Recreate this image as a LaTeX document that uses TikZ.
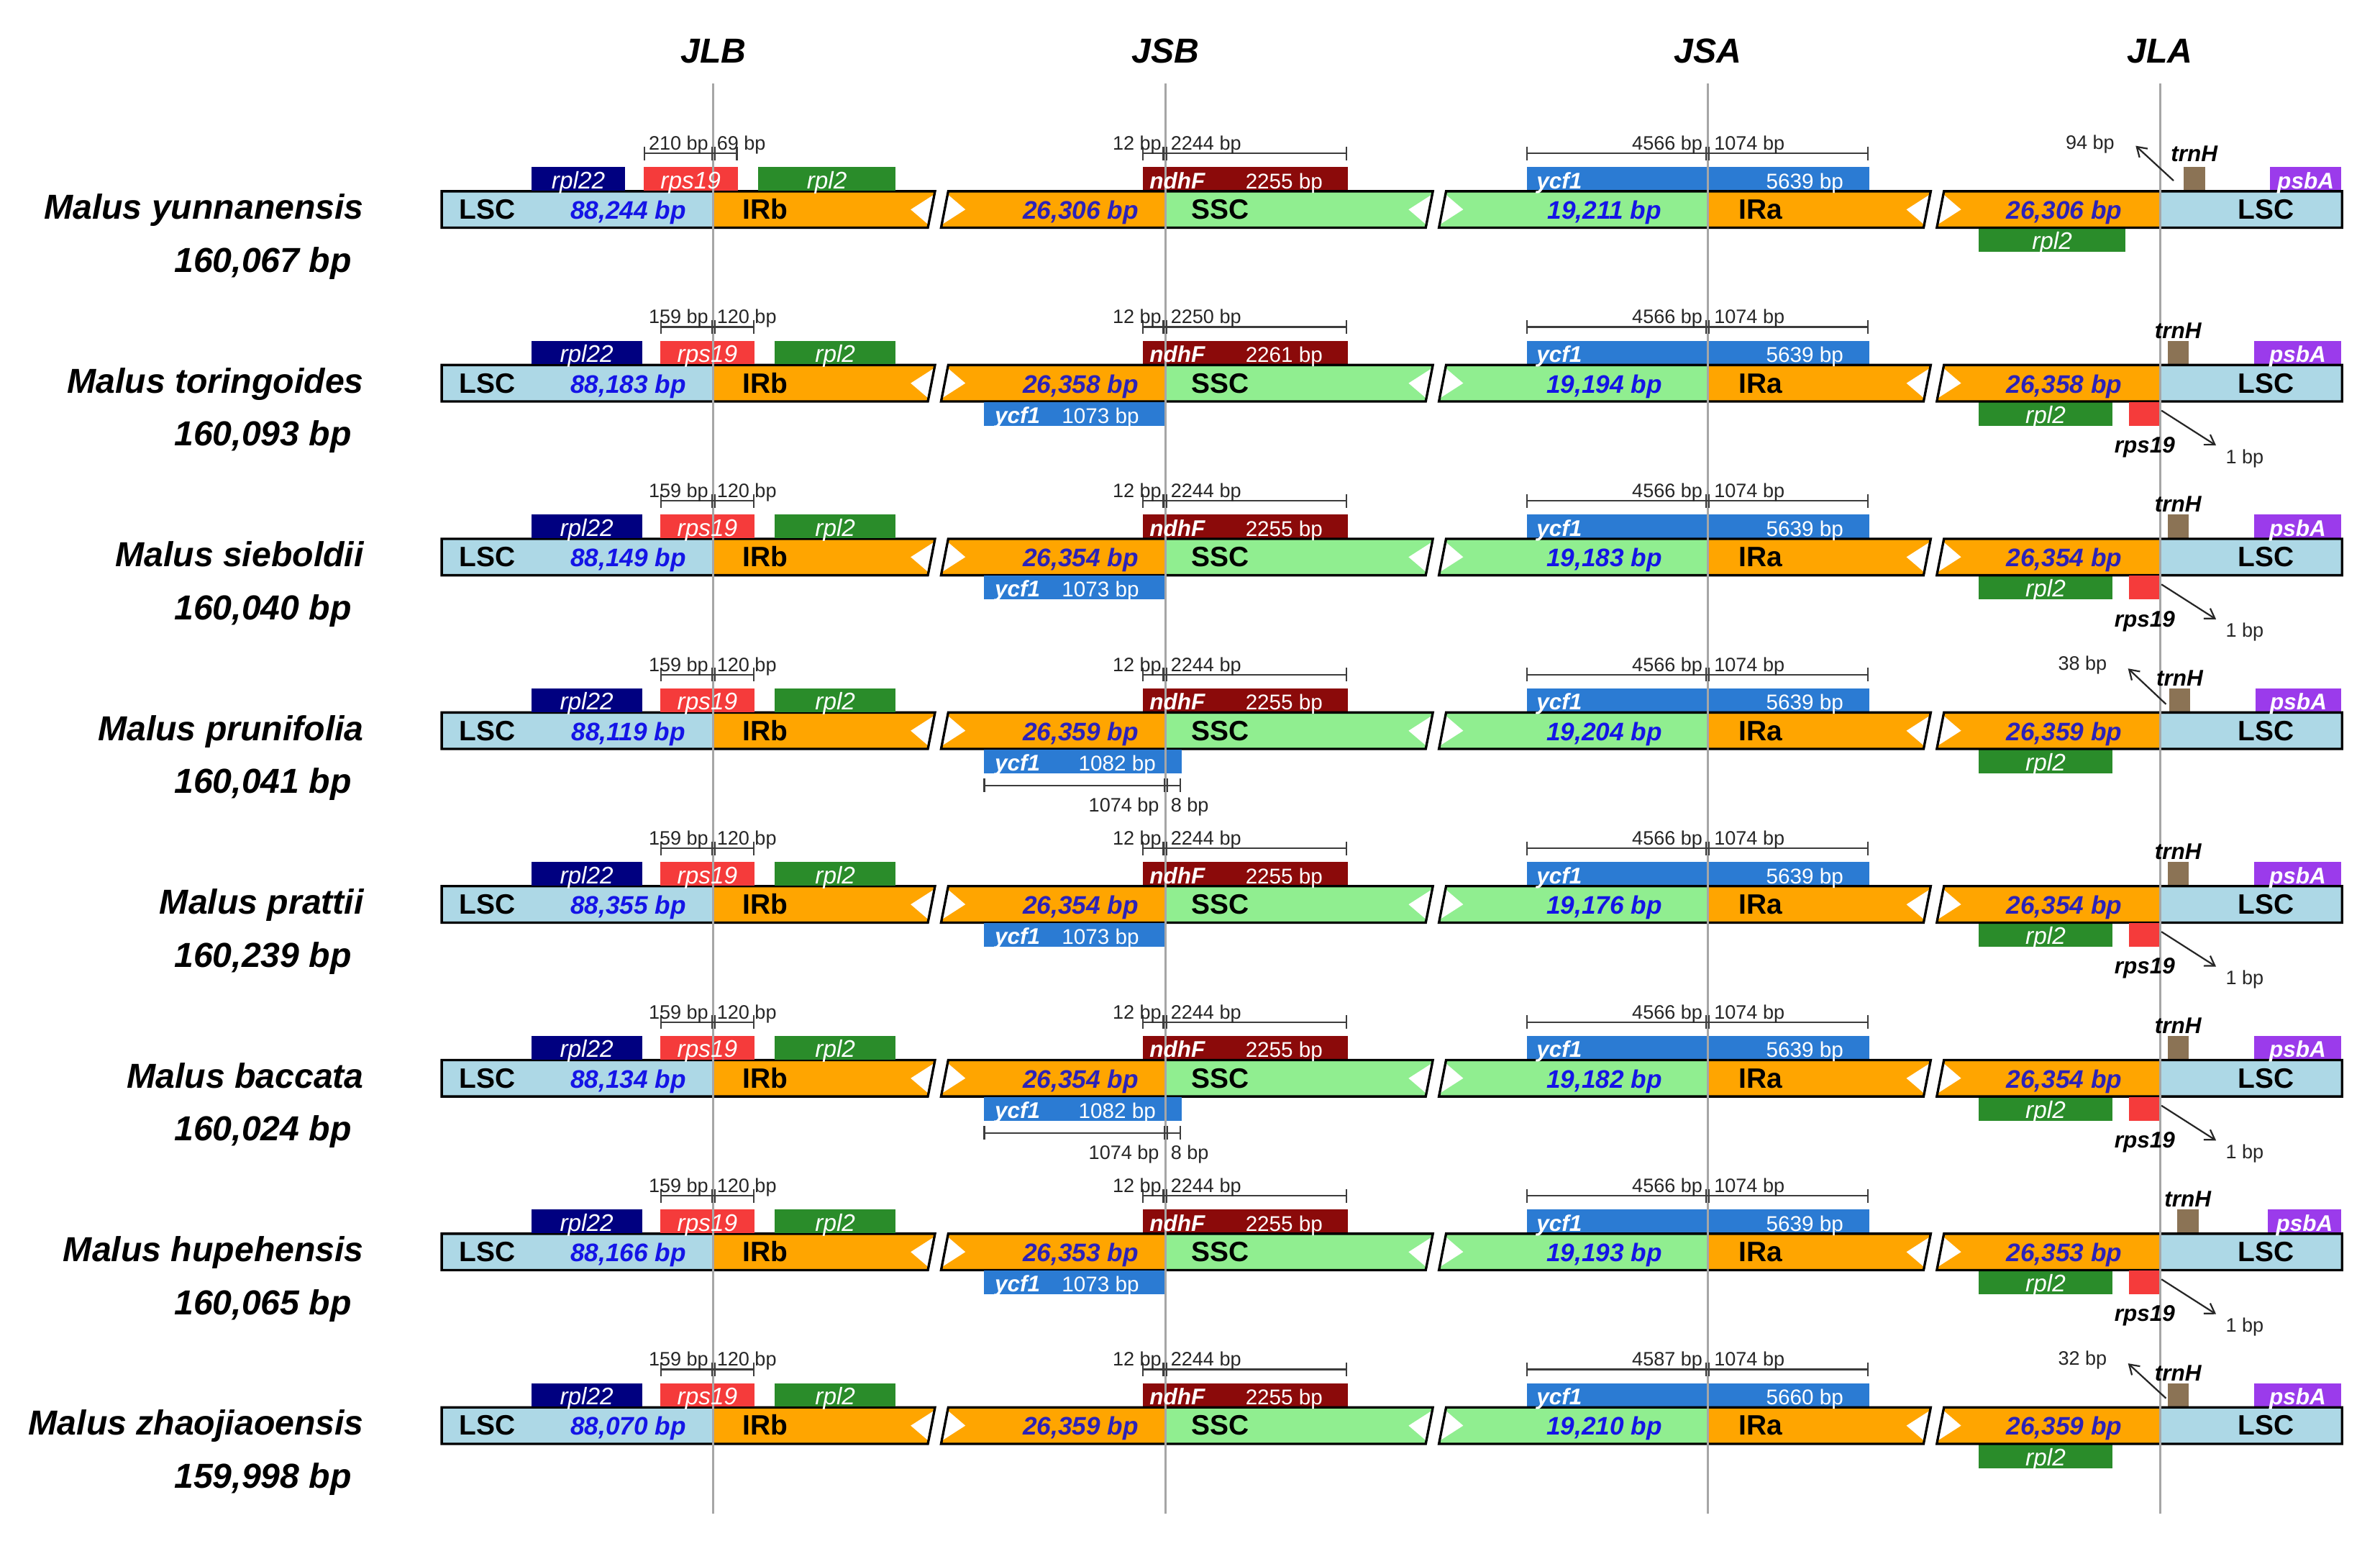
\documentclass[tikz,border=0pt]{standalone}
\usepackage{fontspec}
\setmainfont{Liberation Sans}
\usetikzlibrary{arrows.meta}
\definecolor{lscc}{HTML}{ADD8E6}
\definecolor{irc}{HTML}{FFA500}
\definecolor{sscc}{HTML}{90EE90}
\definecolor{rpltt}{HTML}{000080}
\definecolor{rpsc}{HTML}{F53B3B}
\definecolor{rpltwo}{HTML}{2A8C2A}
\definecolor{ndhc}{HTML}{8B0A0A}
\definecolor{ycfc}{HTML}{2B7BD3}
\definecolor{trnc}{HTML}{8B7355}
\definecolor{psbc}{HTML}{9B3BEB}
\definecolor{bpa}{HTML}{1414E6}
\definecolor{bpb}{HTML}{2C22B8}
\definecolor{jgrey}{HTML}{A6A6A6}
\definecolor{dimc}{HTML}{3C3C3C}
\tikzset{
 spname/.style={font=\fontsize{13}{13}\selectfont\bfseries\itshape, anchor=east, inner sep=0pt, text height=0.72em, text depth=0pt},
 hdr/.style={font=\fontsize{13}{13}\selectfont\bfseries\itshape, inner sep=0pt, text height=0.72em, text depth=0pt},
 reg/.style={font=\fontsize{10.5}{10.5}\selectfont\bfseries, inner sep=0pt, text height=0.72em, text depth=0pt},
 bpn/.style={font=\fontsize{9.5}{9.5}\selectfont\bfseries\itshape, inner sep=0pt, text height=0.72em, text depth=0pt},
 gn/.style={font=\fontsize{9}{9}\selectfont\itshape, text=white, inner sep=0pt, text height=0.72em, text depth=0pt},
 gnb/.style={font=\fontsize{8.5}{8.5}\selectfont\bfseries\itshape, text=white, inner sep=0pt, text height=0.72em, text depth=0pt},
 gl/.style={font=\fontsize{8}{8}\selectfont, text=white, inner sep=0pt, text height=0.72em, text depth=0pt},
 dimt/.style={font=\fontsize{7.3}{7.3}\selectfont, text=black!85, inner sep=0pt, text height=0.72em, text depth=0pt},
 blk/.style={font=\fontsize{8.5}{8.5}\selectfont\bfseries\itshape, inner sep=0pt, text height=0.72em, text depth=0pt},
 dimln/.style={draw=dimc, line width=0.6pt},
 outl/.style={draw=black, line width=0.9pt, line join=miter},
 jline/.style={draw=jgrey, line width=0.8pt},
 ptr/.style={draw=black!85, line width=0.6pt, -{Straight Barb[length=3.5pt,width=4.5pt]}},
}
\newcommand\dimbar[4]{%
 \draw[dimln] (#1,#4) -- (#3,#4);
 \draw[dimln] (#1,#4-4.5) -- (#1,#4+4.5) (#3,#4-4.5) -- (#3,#4+4.5);
 \draw[dimln] (#2-1,#4-4.5) -- (#2-1,#4+4.5) (#2+1,#4-4.5) -- (#2+1,#4+4.5);}
\def\rowlist{%
1/138/Malus yunnanensis/160{,}067/88{,}244/26{,}306/19{,}211/2255/2244/4566/5639/1438.6/1495.5/38/1400.3,%
2/252.4/Malus toringoides/160{,}093/88{,}183/26{,}358/19{,}194/2261/2250/4566/5639/1428/1485/36/1391.7,%
3/366.9/Malus sieboldii/160{,}040/88{,}149/26{,}354/19{,}183/2255/2244/4566/5639/1428/1485/36/1391.7,%
4/481.3/Malus prunifolia/160{,}041/88{,}119/26{,}359/19{,}204/2255/2244/4566/5639/1429/1486/36/1391.7,%
5/595.7/Malus prattii/160{,}239/88{,}355/26{,}354/19{,}176/2255/2244/4566/5639/1428/1485/36/1391.7,%
6/710.2/Malus baccata/160{,}024/88{,}134/26{,}354/19{,}182/2255/2244/4566/5639/1428/1485/36/1391.7,%
7/824.6/Malus hupehensis/160{,}065/88{,}166/26{,}353/19{,}193/2255/2244/4566/5639/1434.4/1494/36/1391.7,%
8/939/Malus zhaojiaoensis/159{,}998/88{,}070/26{,}359/19{,}210/2255/2244/4587/5660/1428/1485/36/1391.7}
\def\jlblist{%
1/138/350/412/424/486/499.5/210/69/424.5/485.5,%
2/252.4/350/423/435/497/510.5/159/120/435.5/496.5,%
3/366.9/350/423/435/497/510.5/159/120/435.5/496.5,%
4/481.3/350/423/435/497/510.5/159/120/435.5/496.5,%
5/595.7/350/423/435/497/510.5/159/120/435.5/496.5,%
6/710.2/350/423/435/497/510.5/159/120/435.5/496.5,%
7/824.6/350/423/435/497/510.5/159/120/435.5/496.5,%
8/939/350/423/435/497/510.5/159/120/435.5/496.5}
\def\ycflist{2/252.4/768/1073/725,3/366.9/768/1073/725,4/481.3/778.5/1082/736,5/595.7/768/1073/725,6/710.2/778.5/1082/736,7/824.6/768/1073/725}
\def\rpslist{2/252.4,3/366.9,5/595.7,6/710.2,7/824.6}
\def\arrlist{1/138/1432/1407/94/1377/19/42,4/481.3/1427/1402/38/1372/17.5/41,8/939/1427/1402/32/1372/18/41}
\begin{document}
\begin{tikzpicture}[x=0.02cm,y=-0.02cm]
\useasboundingbox (0,0) rectangle (1568,1015);
% ---------- fills, gene boxes, outlines
\foreach \rw/\yc/\nm/\tot/\vL/\vI/\vS/\vN/\vNd/\vYd/\vY/\vT/\vP/\vTy/\vR in \rowlist {
 \pgfmathsetmacro\yt{\yc-12}
 \pgfmathsetmacro\yb{\yc+12}
 % gene boxes
 \fill[ndhc] (753,\yc-28) rectangle (888,\yt);
 \fill[ycfc] (1006,\yc-28) rectangle (1231.5,\yt);
 \fill[trnc] (\vT,\yc-28) rectangle (\vT+14,\yt);
 \fill[psbc] (\vP,\yc-28) rectangle (1542.5,\yt);
 \fill[rpltwo] (1303.6,\yb) rectangle (\vR,\yc+28);
 % bar fills
 \fill[lscc] (291,\yt) rectangle (470,\yb);
 \fill[irc] (470,\yt) -- (616,\yt) -- (611.3,\yb) -- (470,\yb) -- cycle;
 \fill[irc] (624.7,\yt) -- (768,\yt) -- (768,\yb) -- (620,\yb) -- cycle;
 \fill[sscc] (768,\yt) -- (944,\yt) -- (939.3,\yb) -- (768,\yb) -- cycle;
 \fill[sscc] (952.7,\yt) -- (1125,\yt) -- (1125,\yb) -- (948,\yb) -- cycle;
 \fill[irc] (1125,\yt) -- (1272,\yt) -- (1267.3,\yb) -- (1125,\yb) -- cycle;
 \fill[irc] (1280.7,\yt) -- (1423,\yt) -- (1423,\yb) -- (1276,\yb) -- cycle;
 \fill[lscc] (1423,\yt) rectangle (1543,\yb);
 \foreach \cc in {618,946,1274} {
  \fill[white] (\cc-18,\yc) -- (\cc-2.4,\yc-10) -- (\cc-6.3,\yc+10) -- cycle;
  \fill[white] (\cc+18,\yc) -- (\cc+6.3,\yc-10) -- (\cc+2.4,\yc+10) -- cycle;
 }
 \draw[outl] (291,\yt) -- (616,\yt) -- (611.3,\yb) -- (291,\yb) -- cycle;
 \draw[outl] (620,\yb) -- (624.7,\yt) -- (944,\yt) -- (939.3,\yb) -- cycle;
 \draw[outl] (948,\yb) -- (952.7,\yt) -- (1272,\yt) -- (1267.3,\yb) -- cycle;
 \draw[outl] (1276,\yb) -- (1280.7,\yt) -- (1543,\yt) -- (1543,\yb) -- cycle;
}
\foreach \rw/\yc/\xa/\xb/\xc/\xd/\xe/\lA/\lB/\ta/\tb in \jlblist {
 \fill[rpltt] (\xa,\yc-28) rectangle (\xb,\yc-12.4);
 \fill[rpsc] (\xc,\yc-28) rectangle (\xd,\yc-12.4);
 \fill[rpltwo] (\xe,\yc-28) rectangle (590,\yc-12.4);
}
\foreach \rw/\yc/\xr/\vl/\xl in \ycflist {
 \fill[ycfc] (648,\yc+12.4) rectangle (\xr,\yc+28);
}
\foreach \rw/\yc in \rpslist {
 \fill[rpsc] (1402.6,\yc+12.4) rectangle (1424,\yc+28);
}
% ---------- junction lines and headers
\node[hdr] (hJLB) at (470,35) {JLB};
\node[hdr] (hJSB) at (768,35) {JSB};
\node[hdr] (hJSA) at (1125,35) {JSA};
\node[hdr] (hJLA) at (1423,35) {JLA};
\foreach \jx in {470,768,1125,1423} \draw[jline] (\jx,55) -- (\jx,997);
% ---------- texts, dimensions, pointers
\foreach \rw/\yc/\nm/\tot/\vL/\vI/\vS/\vN/\vNd/\vYd/\vY/\vT/\vP/\vTy/\vR in \rowlist {
 \node[spname] (sp\rw) at (240,\yc) {\nm};
 \node[spname] (tot\rw) at (232,\yc+35) {\tot\ bp};
 \node[reg] (lscA\rw) at (321,\yc) {LSC};
 \node[bpn,text=bpa] (bpL\rw) at (414,\yc) {\vL\ bp};
 \node[reg] (irb\rw) at (504,\yc) {IRb};
 \node[bpn,text=bpb] (bpI\rw) at (712,\yc) {\vI\ bp};
 \node[reg] (ssc\rw) at (804,\yc) {SSC};
 \node[bpn,text=bpa] (bpS\rw) at (1057,\yc) {\vS\ bp};
 \node[reg] (ira\rw) at (1160,\yc) {IRa};
 \node[bpn,text=bpb] (bpJ\rw) at (1360,\yc) {\vI\ bp};
 \node[reg] (lscB\rw) at (1493,\yc) {LSC};
 % ndhF
 \node[gnb,anchor=west] (ndh\rw) at (757,\yc-20) {ndhF};
 \node[gl] (ndhl\rw) at (846,\yc-20) {\vN\ bp};
 \dimbar{753}{767.5}{887}{\yc-37}
 \node[dimt,anchor=east] (dA\rw) at (765.5,\yc-45.5) {12 bp};
 \node[dimt,anchor=west] (dB\rw) at (771,\yc-45.5) {\vNd\ bp};
 % ycf1
 \node[gnb,anchor=west] (ycf\rw) at (1012,\yc-20) {ycf1};
 \node[gl] (ycfl\rw) at (1189,\yc-20) {\vY\ bp};
 \dimbar{1006}{1125}{1230.5}{\yc-37}
 \node[dimt,anchor=east] (dC\rw) at (1122,\yc-45.5) {\vYd\ bp};
 \node[dimt,anchor=west] (dD\rw) at (1129,\yc-45.5) {1074 bp};
 % JLA
 \node[gn] (rplr\rw) at ({(1303.6+\vR)/2},\yc+20) {rpl2};
 \node[blk] (trnl\rw) at (\vT+7,\yc-\vTy) {trnH};
 \node[gnb] (psbl\rw) at ({(\vP+1542.5)/2},\yc-20) {psbA};
}
\foreach \rw/\yc/\xa/\xb/\xc/\xd/\xe/\lA/\lB/\ta/\tb in \jlblist {
 \node[gn] (rpla\rw) at ({(\xa+\xb)/2},\yc-20) {rpl22};
 \node[gn] (rpsa\rw) at ({(\xc+\xd)/2},\yc-20) {rps19};
 \node[gn] (rplb\rw) at ({(\xe+590)/2},\yc-20) {rpl2};
 \dimbar{\ta}{470}{\tb}{\yc-37}
 \node[dimt,anchor=east] (dE\rw) at (467,\yc-45.5) {\lA\ bp};
 \node[dimt,anchor=west] (dF\rw) at (472,\yc-45.5) {\lB\ bp};
}
\foreach \rw/\yc/\xr/\vl/\xl in \ycflist {
 \node[gnb,anchor=west] (ycfb\rw) at (655,\yc+20) {ycf1};
 \node[gl] (ycfbl\rw) at (\xl,\yc+20) {\vl\ bp};
}
\foreach \rw/\yc in {4/481.3,6/710.2} {
 \dimbar{648.5}{768}{777.5}{\yc+36}
 \node[dimt,anchor=east] (dG\rw) at (764,\yc+47) {1074 bp};
 \node[dimt,anchor=west] (dH\rw) at (771,\yc+47) {8 bp};
}
\foreach \rw/\yc in \rpslist {
 \node[blk] (rpsl\rw) at (1413,\yc+39.5) {rps19};
 \coordinate (rpsp\rw) at (1424,\yc+18);
 \coordinate (rpsq\rw) at (1460,\yc+41);
 \draw[ptr] (rpsp\rw) -- (rpsq\rw);
 \node[dimt,anchor=west] (one\rw) at (1466,\yc+46.5) {1 bp};
}
\foreach \rw/\yc/\sx/\ex/\vb/\lx/\sy/\ey in \arrlist {
 \node[dimt] (tbp\rw) at (\lx,\yc-46) {\vb\ bp};
 \coordinate (tp\rw) at (\sx,\yc-\sy);
 \coordinate (tq\rw) at (\ex,\yc-\ey);
 \draw[ptr] (tp\rw) -- (tq\rw);
}
\end{tikzpicture}
\end{document}
